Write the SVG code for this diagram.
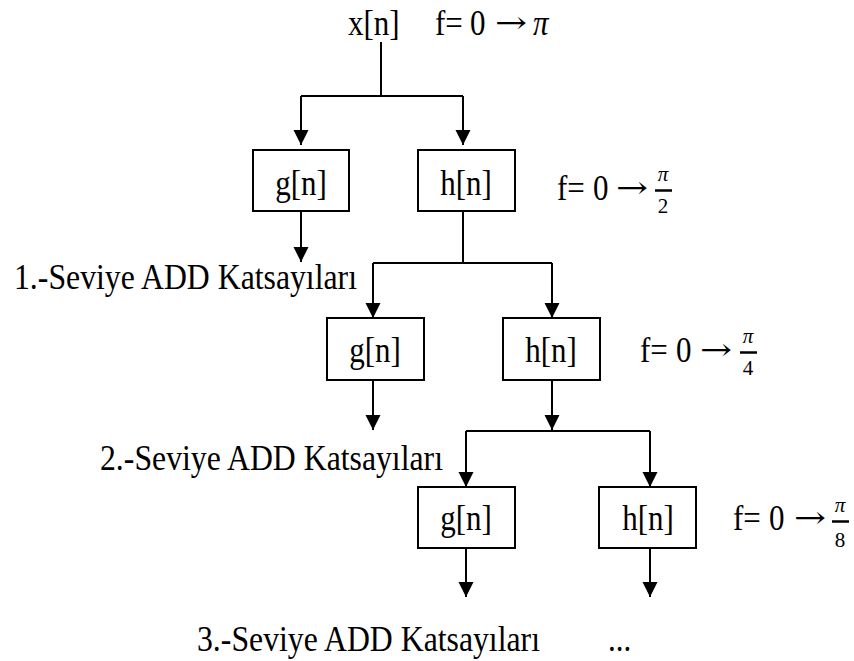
<svg xmlns="http://www.w3.org/2000/svg" width="854" height="661" viewBox="0 0 854 661">
<style>
.t,.fr{font-family:'Liberation Serif',serif;fill:#000}
.t{font-size:31px}
.fr{font-size:21px}
.pi{font-style:italic}
.arw{font-family:'DejaVu Serif',serif;font-size:26px}
.box{fill:#fff;stroke:#000;stroke-width:2}
.ln{fill:none;stroke:#000;stroke-width:2}
.ar{fill:none;stroke:#000;stroke-width:2;marker-end:url(#ah)}
.bar{stroke:#000;stroke-width:2.5}
</style>
<defs>
<marker id="ah" markerUnits="userSpaceOnUse" markerWidth="16" markerHeight="16" refX="15" refY="7.5" orient="auto" viewBox="0 0 16 16">
<path d="M0,0 L15,7.5 L0,15 z" fill="#000"/>
</marker>
</defs>
<rect width="854" height="661" fill="#fff"/>

<g id="connectors">
<path class="ln" d="M381,42 V96 M301,96 H463"/>
<path class="ar" d="M301,96 V145"/>
<path class="ar" d="M463,96 V145"/>
<path class="ar" d="M301,211 V262"/>
<path class="ln" d="M463,211 V263 M373,263 H552"/>
<path class="ar" d="M373,263 V318"/>
<path class="ar" d="M552,263 V318"/>
<path class="ar" d="M373,380 V430"/>
<path class="ar" d="M552,380 V430"/>
<path class="ln" d="M466,431 H650"/>
<path class="ar" d="M466,431 V487"/>
<path class="ar" d="M650,431 V487"/>
<path class="ar" d="M466,548 V597"/>
<path class="ar" d="M650,548 V597"/>
</g>

<g id="input" font-family="Liberation Serif">
<text class="t" transform="translate(348,35) scale(1,1.18)">x[n]</text>
<text class="t" transform="translate(435,35) scale(1,1.18)">f=</text>
<text class="t" transform="translate(470,35) scale(1,1.18)">0</text>
<text class="arw" transform="translate(495,33) scale(1,1.18)" textLength="32" lengthAdjust="spacingAndGlyphs">→</text>
<text class="t pi" transform="translate(533,35) scale(1,1.18)">π</text>
</g>

<g id="g1" font-family="Liberation Serif">
<rect class="box" x="253" y="150" width="96" height="61"/>
<text class="t" text-anchor="middle" transform="translate(301,195) scale(1,1.18)">g[n]</text>
</g>
<g id="h1" font-family="Liberation Serif">
<rect class="box" x="418" y="150" width="97" height="61"/>
<text class="t" text-anchor="middle" transform="translate(466,195) scale(1,1.18)">h[n]</text>
</g>
<g id="f1" font-family="Liberation Serif">
<text class="t" transform="translate(557,200) scale(1,1.18)">f=</text>
<text class="t" transform="translate(593,200) scale(1,1.18)">0</text>
<text class="arw" transform="translate(616,198) scale(1,1.18)" textLength="32" lengthAdjust="spacingAndGlyphs">→</text>
<text class="fr pi" text-anchor="middle" x="663" y="181">π</text>
<line class="bar" x1="655" y1="190.5" x2="672" y2="190.5"/>
<text class="fr" text-anchor="middle" x="663" y="213">2</text>
</g>
<g id="out1" font-family="Liberation Serif">
<text class="t" transform="translate(14,289) scale(1,1.18)" textLength="343" lengthAdjust="spacingAndGlyphs">1.-Seviye ADD Katsayıları</text>
</g>

<g id="g2" font-family="Liberation Serif">
<rect class="box" x="327" y="318" width="97" height="62"/>
<text class="t" text-anchor="middle" transform="translate(375,362) scale(1,1.18)">g[n]</text>
</g>
<g id="h2" font-family="Liberation Serif">
<rect class="box" x="503" y="318" width="97" height="62"/>
<text class="t" text-anchor="middle" transform="translate(551,362) scale(1,1.18)">h[n]</text>
</g>
<g id="f2" font-family="Liberation Serif">
<text class="t" transform="translate(640,362) scale(1,1.18)">f=</text>
<text class="t" transform="translate(676,362) scale(1,1.18)">0</text>
<text class="arw" transform="translate(700,360) scale(1,1.18)" textLength="32" lengthAdjust="spacingAndGlyphs">→</text>
<text class="fr pi" text-anchor="middle" x="748" y="343">π</text>
<line class="bar" x1="740" y1="352.5" x2="757" y2="352.5"/>
<text class="fr" text-anchor="middle" x="748" y="375">4</text>
</g>
<g id="out2" font-family="Liberation Serif">
<text class="t" transform="translate(100,470) scale(1,1.18)" textLength="343" lengthAdjust="spacingAndGlyphs">2.-Seviye ADD Katsayıları</text>
</g>

<g id="g3" font-family="Liberation Serif">
<rect class="box" x="418" y="487" width="97" height="61"/>
<text class="t" text-anchor="middle" transform="translate(466,530) scale(1,1.18)">g[n]</text>
</g>
<g id="h3" font-family="Liberation Serif">
<rect class="box" x="599" y="487" width="97" height="61"/>
<text class="t" text-anchor="middle" transform="translate(648,530) scale(1,1.18)">h[n]</text>
</g>
<g id="f3" font-family="Liberation Serif">
<text class="t" transform="translate(733,530) scale(1,1.18)">f=</text>
<text class="t" transform="translate(769,530) scale(1,1.18)">0</text>
<text class="arw" transform="translate(794,528) scale(1,1.18)" textLength="32" lengthAdjust="spacingAndGlyphs">→</text>
<text class="fr pi" text-anchor="middle" x="840" y="512">π</text>
<line class="bar" x1="832" y1="521.5" x2="849" y2="521.5"/>
<text class="fr" text-anchor="middle" x="840" y="547">8</text>
</g>
<g id="out3" font-family="Liberation Serif">
<text class="t" transform="translate(197,651) scale(1,1.18)" textLength="343" lengthAdjust="spacingAndGlyphs">3.-Seviye ADD Katsayıları</text>
<text class="t" transform="translate(608,651) scale(1,1.18)">...</text>
</g>
</svg>
